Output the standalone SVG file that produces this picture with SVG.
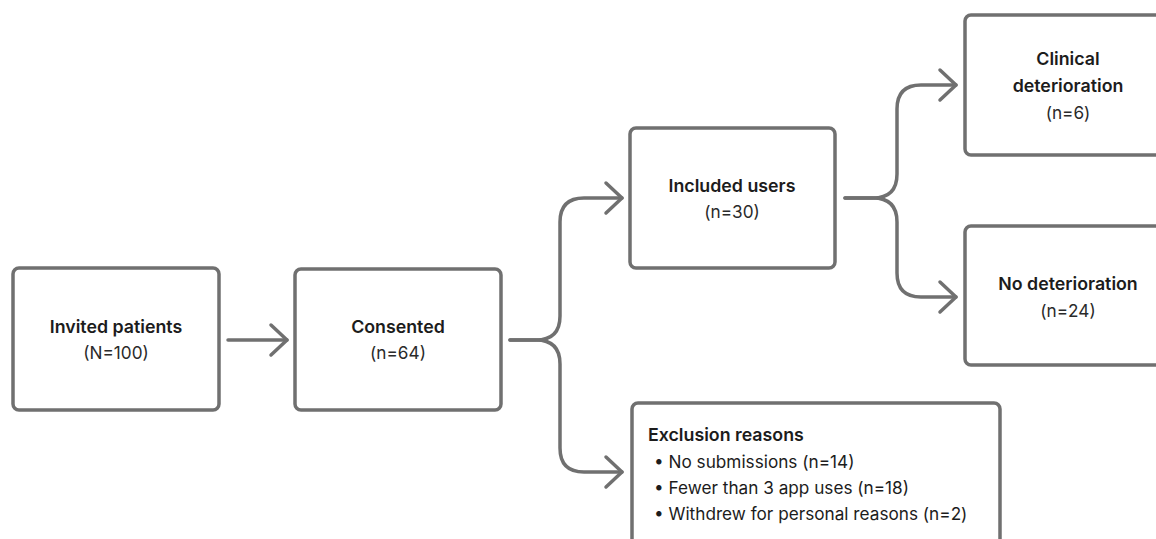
<svg xmlns="http://www.w3.org/2000/svg" width="1156" height="539" viewBox="0 0 1156 539">
<style>
.box{fill:#fff;stroke:#707070;stroke-width:3.5}
.t{font-family:Inter,"Liberation Sans",sans-serif;font-size:17.2px;fill:#1c1c1c}
.b{font-weight:600;font-size:17.8px}
.c{text-anchor:middle}
.n{fill:#2a2a2a}
.con{fill:none;stroke:#707070;stroke-width:3.5;stroke-linecap:round;stroke-linejoin:round}
</style>
<defs>
<marker id="arr" markerUnits="userSpaceOnUse" viewBox="-20 -20 40 40" markerWidth="40" markerHeight="40" refX="0" refY="0" orient="auto">
<path d="M-16,-15 L0,0 L-16,15" fill="none" stroke="#707070" stroke-width="3.5" stroke-linecap="round" stroke-linejoin="round"/>
</marker>
</defs>
<rect width="1156" height="539" fill="#fff"/>
<g id="connectors">
<path class="con" d="M228,340 H287" marker-end="url(#arr)"/>
<path class="con" d="M510,340 H536 Q560,340 560,316 V222 Q560,198 584,198 H622" marker-end="url(#arr)"/>
<path class="con" d="M510,340 H536 Q560,340 560,364 V448 Q560,472 584,472 H622" marker-end="url(#arr)"/>
<path class="con" d="M845,198 H873 Q897,198 897,174 V109 Q897,85 921,85 H956" marker-end="url(#arr)"/>
<path class="con" d="M845,198 H873 Q897,198 897,222 V273 Q897,297 921,297 H956" marker-end="url(#arr)"/>
</g>
<g id="invited">
<rect class="box" x="13" y="268" width="206" height="142" rx="6"/>
<text class="t b c" x="116" y="333">Invited patients</text>
<text class="t c n" x="116" y="359">(N=100)</text>
</g>
<g id="consented">
<rect class="box" x="295" y="269" width="206" height="141" rx="6"/>
<text class="t b c" x="398" y="333">Consented</text>
<text class="t c n" x="398" y="359">(n=64)</text>
</g>
<g id="included">
<rect class="box" x="630" y="128" width="205" height="140" rx="6"/>
<text class="t b c" x="732" y="192">Included users</text>
<text class="t c n" x="732" y="218">(n=30)</text>
</g>
<g id="clinical">
<rect class="box" x="965" y="15" width="206" height="140" rx="6"/>
<text class="t b c" x="1068" y="65">Clinical</text>
<text class="t b c" x="1068" y="92">deterioration</text>
<text class="t c n" x="1068" y="119">(n=6)</text>
</g>
<g id="nodeterioration">
<rect class="box" x="965" y="226" width="206" height="139" rx="6"/>
<text class="t b c" x="1068" y="290">No deterioration</text>
<text class="t c n" x="1068" y="317">(n=24)</text>
</g>
<g id="exclusion">
<rect class="box" x="632" y="403" width="368" height="150" rx="6"/>
<text class="t b" x="648" y="441">Exclusion reasons</text>
<text class="t" x="654" y="468">• No submissions (n=14)</text>
<text class="t" x="654" y="494">• Fewer than 3 app uses (n=18)</text>
<text class="t" x="654" y="520">• Withdrew for personal reasons (n=2)</text>
</g>
</svg>
